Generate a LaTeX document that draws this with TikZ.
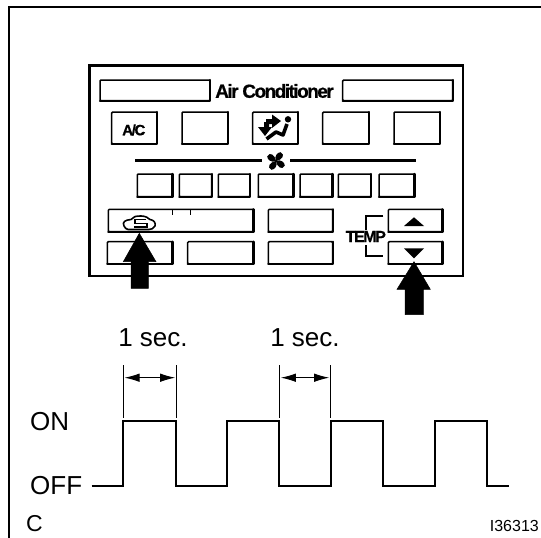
\documentclass[tikz,border=0pt]{standalone}
\usepackage{fontspec}
\setmainfont{Liberation Sans}
\newfontfamily\tightA[LetterSpace=-8,FakeBold=0.6]{Liberation Sans Bold}
\newfontfamily\tightB[LetterSpace=-9,FakeBold=0.6]{Liberation Sans Bold}
\usetikzlibrary{arrows.meta}
\tikzset{
  frameline/.style={line width=2.8pt,line cap=butt},
  panelline/.style={line width=2.6pt},
  btnthin/.style={line width=1.5pt,rounded corners=1pt},
  btnthick/.style={line width=2.4pt,line cap=round,line join=round},
  wave/.style={line width=2.2pt,line join=miter},
  dimline/.style={line width=0.9pt},
  dimarrow/.style={line width=1pt,{Latex[length=15pt,width=8.5pt]}-{Latex[length=15pt,width=8.5pt]}},
  label/.style={font=\fontsize{26}{26}\selectfont,inner sep=0pt},
  small/.style={font=\fontsize{16}{16}\selectfont,inner sep=0pt},
}
\newcommand{\btn}[4]{%
  \draw[btnthin] (#1,#2) rectangle (#3,#4);
  \draw[btnthick] (#3,#2) -- (#3,#4) -- (#1,#4);}
\begin{document}
\begin{tikzpicture}[x=1pt,y=-1pt]
\useasboundingbox (0,0) rectangle (541,538);
% outer frame
\draw[frameline] (9,538) -- (9,7) -- (541,7);
% panel
\draw[panelline] (89.5,65.7) rectangle (463,276);
\btn{100}{80}{210}{100.7}
\btn{342.7}{80}{452.7}{100.7}
\node[inner sep=0pt,font=\tightA\fontsize{19}{19}\selectfont] (title) at (274.5,91) {Air Conditioner};
% button row
\btn{111.7}{112}{157}{144}
\btn{182}{112}{228}{144}
\btn{252.7}{112}{298}{144}
\btn{322.7}{112}{369}{144}
\btn{394}{112}{440}{144}
\node[inner sep=0pt,font=\tightB\fontsize{15}{15}\selectfont] (ac) at (133.8,130) {A/C};
% vent icon
\fill (288,119.3) circle (3.2);
\draw[line width=3.6pt,line join=round] (266.5,139) -- (276,132) -- (283,135) -- (287,124);
\fill (258,127) -- (264,127) -- (264,122) -- (269,122) -- (269,127) -- (272,127) -- (265,136) -- cycle;
\fill (266,119) -- (272,119) -- (272,114.5) -- (281,121) -- (272,128) -- (272,124) -- (266,124) -- cycle;
% fan bars and icon
\draw[line width=3pt] (135,160.7) -- (261.7,160.7);
\draw[line width=3pt] (290,160.7) -- (415.7,160.7);
\foreach \a in {45,135,225,315}
  \fill[rotate around={\a:(276,161)}] (276,161) .. controls (278,156) and (283,156) .. (285.5,158) .. controls (287,163) and (282,165) .. (276,161);
% small row
\btn{137.3}{174}{172.3}{196.7}
\btn{179.3}{174}{211.7}{196.7}
\btn{218.3}{174}{250}{196.7}
\btn{258.3}{174}{293.3}{196.7}
\btn{300}{174}{332.3}{196.7}
\btn{338.3}{174}{371}{196.7}
\btn{379}{174}{414.3}{196.7}
% third and fourth rows
\btn{108.3}{209.3}{253.3}{231.7}
\draw[line width=0.9pt] (172.7,209.3) -- (172.7,215);
\draw[line width=0.9pt] (190,209.3) -- (190,215);
\btn{268.3}{209.3}{332.7}{231.7}
\btn{107.3}{241.7}{172.3}{264}
\btn{187.7}{241.7}{253.3}{264}
\btn{268.3}{241.7}{332.7}{264}
% temp buttons
\btn{388.3}{209.3}{442.3}{231.7}
\btn{388.3}{241.7}{442.3}{264}
\fill (414,217.3) -- (424,226) -- (404,226) -- cycle;
\fill (404,248.3) -- (424,248.3) -- (414,258.3) -- cycle;
\draw[line width=1.4pt] (383.3,216) -- (366,216) -- (366,230);
\draw[line width=1.4pt] (366,245) -- (366,256) -- (383.3,256);
\node[font=\tightB\fontsize{16}{16}\selectfont,inner sep=0pt] (temp) at (365.8,236.5) {TEMP};
% car icon
\draw[line width=1.6pt,line join=round,fill=white]
  (124,226) .. controls (122,222) and (125,220) .. (131,219.5)
  .. controls (133,216.5) and (136,216) .. (141,216)
  .. controls (146,216) and (148,218) .. (150,219.5)
  .. controls (154,220) and (156,223) .. (155,226)
  .. controls (154,229) and (151,229) .. (149,229.5)
  -- (128,229.5) .. controls (126,229) and (125,228) .. (124,226) -- cycle;
\draw[line width=1.5pt] (146,219.5) -- (135,219.5) -- (135,223.3) -- (147,223.3) -- (147,227) -- (134,227);
% big arrows
\fill[draw=black,line width=0.5pt] (139.3,233.3) -- (156,261.7) -- (148.3,261.7) -- (148.3,288.3) -- (131,288.3) -- (131,261.7) -- (123.3,261.7) -- cycle;
\fill[draw=black,line width=0.5pt] (414,261.7) -- (430.3,289.3) -- (423.3,289.3) -- (423.3,314.5) -- (405,314.5) -- (405,289.3) -- (397,289.3) -- cycle;
% timing
\node[label,anchor=base] (sec1) at (153,346) {1 sec.};
\node[label,anchor=base] (sec2) at (305,346) {1 sec.};
\node[label,anchor=base west] (on) at (30,430) {ON};
\node[label,anchor=base west] (off) at (30,494) {OFF};
\node[font=\fontsize{23}{23}\selectfont,inner sep=0pt,anchor=base west] (c) at (26,531.5) {C};
\node[small,anchor=base east] (code) at (539,531.7) {I36313};
\draw[wave] (91.7,485.7) -- (123.3,485.7) -- (123.3,420.7) -- (175.7,420.7) -- (175.7,485.7)
  -- (227.3,485.7) -- (227.3,420.7) -- (279.3,420.7) -- (279.3,485.7)
  -- (331,485.7) -- (331,420.7) -- (383.3,420.7) -- (383.3,485.7)
  -- (435,485.7) -- (435,420.7) -- (486.7,420.7) -- (486.7,485.7) -- (509.3,485.7);
\coordinate (a1) at (123,377.7); \coordinate (a2) at (176.7,377.7);
\coordinate (b1) at (279.3,377.7); \coordinate (b2) at (330.7,377.7);
\draw[dimline] (123,365) -- (123,417.7);
\draw[dimline] (176.7,365) -- (176.7,417.7);
\draw[dimline] (279.3,365) -- (279.3,417.7);
\draw[dimline] (330.7,365) -- (330.7,417.7);
\draw[dimarrow] ([xshift=1.5pt]a1) -- ([xshift=-1.5pt]a2);
\draw[dimarrow] ([xshift=1.5pt]b1) -- ([xshift=-1.5pt]b2);
\end{tikzpicture}
\end{document}
